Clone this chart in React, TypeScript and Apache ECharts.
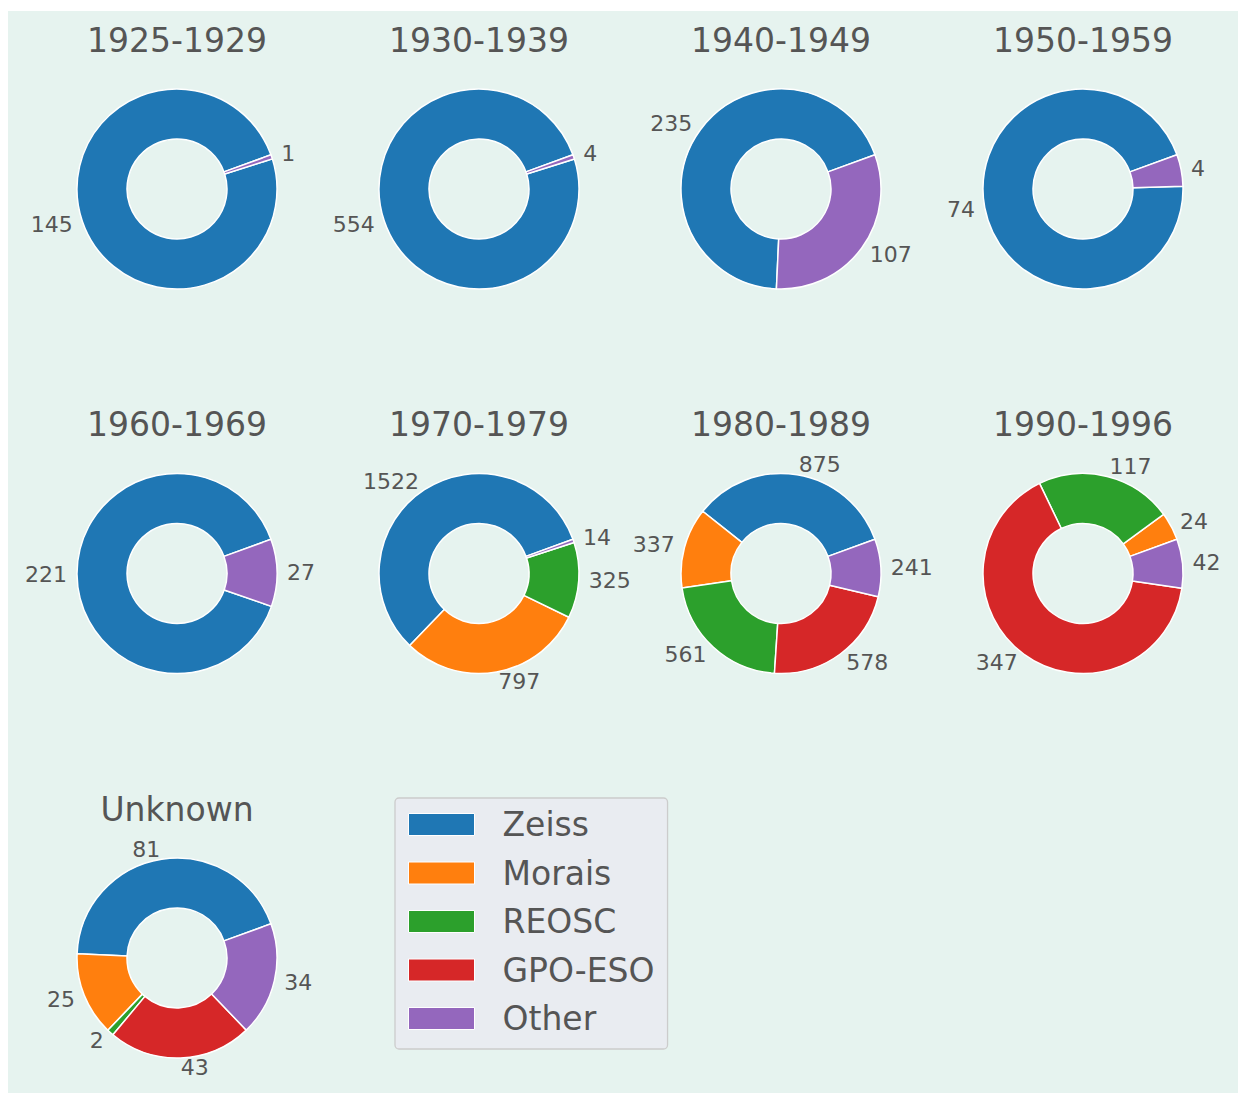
import React, { useEffect, useRef } from 'react';
import * as echarts from 'echarts';

const makers = ['Zeiss', 'Morais', 'REOSC', 'GPO-ESO', 'Other'];
const makerColors = ['#1f77b4', '#ff7f0e', '#2ca02c', '#d62728', '#9467bd'];
const periods = ['1925-1929', '1930-1939', '1940-1949', '1950-1959', '1960-1969', '1970-1979', '1980-1989', '1990-1996', 'Unknown'];
const zeiss = [145, 554, 235, 74, 221, 1522, 875, 0, 81];
const morais = [0, 0, 0, 0, 0, 797, 337, 24, 25];
const reosc = [0, 0, 0, 0, 0, 325, 561, 117, 2];
const gpoEso = [0, 0, 0, 0, 0, 0, 578, 347, 43];
const other = [1, 4, 107, 4, 27, 14, 241, 42, 34];

const FONT = 'DejaVu Sans';
const TEXT = '#555555';

export default function App() {
  const ref = useRef<HTMLDivElement>(null);
  useEffect(() => {
    if (!ref.current) return;
    const chart = echarts.init(ref.current, undefined, { renderer: 'svg' });
    const valuesByMaker = [zeiss, morais, reosc, gpoEso, other];
    const colX0 = 169, colDX = 302, rowY0 = 178, rowDY = 384.5;
    const series: any[] = [];
    const graphics: any[] = [];
    periods.forEach((p, i) => {
      const col = i % 4;
      const row = Math.floor(i / 4);
      const cx = colX0 + col * colDX;
      const cy = rowY0 + row * rowDY;
      const data: any[] = [];
      makers.forEach((m, k) => {
        const v = valuesByMaker[k][i];
        if (v > 0) data.push({ name: m, value: v, itemStyle: { color: makerColors[k] } });
      });
      series.push({
        type: 'pie',
        name: p,
        center: [cx, cy],
        radius: [50, 100],
        startAngle: 20,
        clockwise: false,
        avoidLabelOverlap: false,
        emphasis: { disabled: true },
        itemStyle: { borderColor: '#ffffff', borderWidth: 1.5 },
        label: {
          show: true,
          position: 'outside',
          formatter: '{c}',
          fontSize: 22,
          color: TEXT,
          fontFamily: FONT,
          distanceToLabelLine: 0,
        },
        labelLine: { show: false, length: 10, length2: 0 },
        data,
      });
      graphics.push({
        type: 'text',
        x: cx,
        y: cy - 149,
        style: {
          text: p,
          fontSize: 33,
          fontFamily: FONT,
          fill: TEXT,
          textAlign: 'center',
          textVerticalAlign: 'middle',
        },
      });
    });
    chart.setOption({
      animation: false,
      backgroundColor: '#e6f3ef',
      legend: {
        orient: 'vertical',
        left: 387,
        top: 787,
        data: makers,
        icon: 'rect',
        itemWidth: 66,
        itemHeight: 22,
        itemGap: 15.5,
        padding: [10, 13, 14, 13],
        backgroundColor: '#e9ecf1',
        borderColor: '#cccccc',
        borderWidth: 1.3,
        borderRadius: 4,
        selectedMode: false,
        itemStyle: { borderColor: '#ffffff', borderWidth: 1 },
        textStyle: {
          fontSize: 33,
          lineHeight: 33,
          color: TEXT,
          fontFamily: FONT,
          padding: [0, 0, 0, 23],
        },
      },
      graphic: graphics,
      series,
    });
    return () => chart.dispose();
  }, []);
  return (
    <div
      ref={ref}
      style={{ position: 'fixed', left: 8, top: 11, width: 1230, height: 1082 }}
    />
  );
}
